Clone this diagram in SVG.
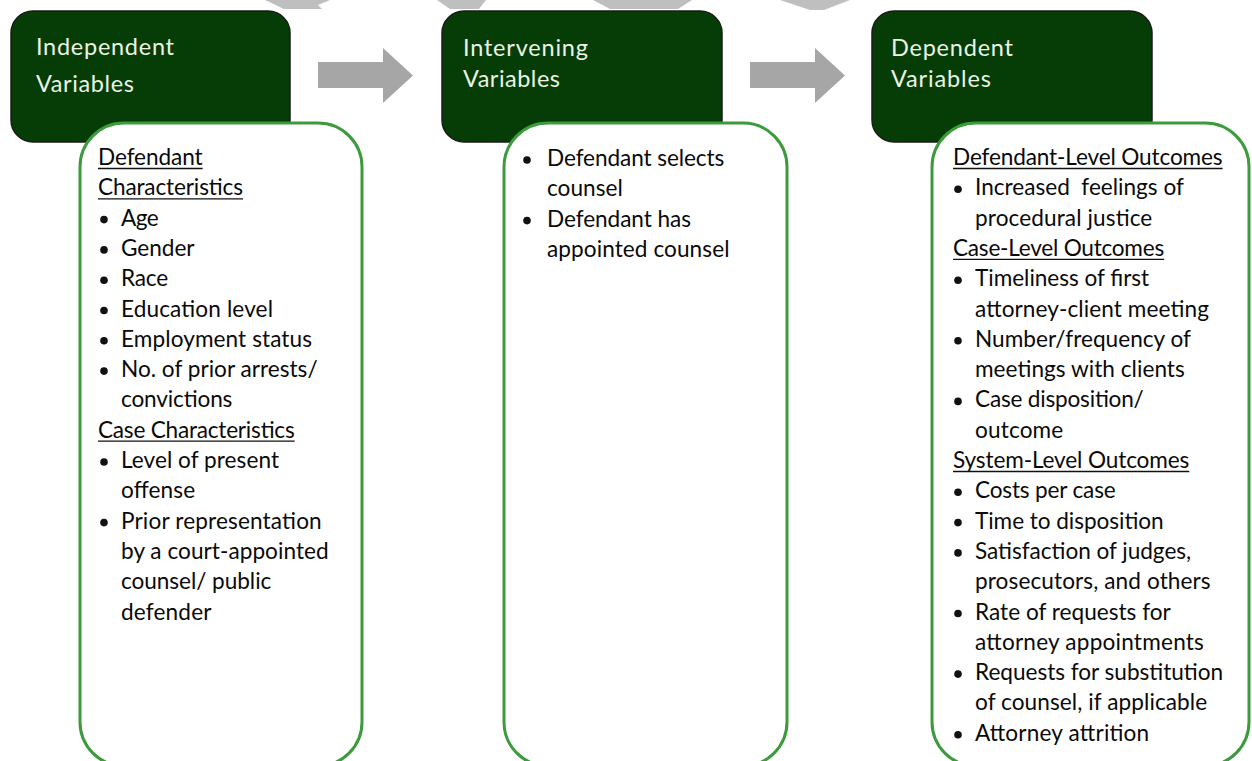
<svg xmlns="http://www.w3.org/2000/svg" width="1252" height="761" viewBox="0 0 1252 761">
<style>
.hdr{fill:#063d06;stroke:#1b1b1b;stroke-width:1.5}
.body{fill:#ffffff;stroke:#3d9a3d;stroke-width:3}
.ht{font-family:Lato,"Open Sans","Noto Sans",sans-serif;font-size:23.5px;fill:#eaf3e4}
.t{font-family:Lato,"Open Sans","Noto Sans",sans-serif;font-size:22.6px;fill:#0a0a0a}
.ul{stroke:#111111;stroke-width:1.3}
.bul{fill:#111111}
.arrow{fill:#a6a6a6}
.wm{fill:#bfbfbf}
</style>
<rect width="1252" height="761" fill="#ffffff"/>
<g id="top-shapes">
<polygon class="wm" points="265,0 330,0 318,5 322,9 284,9"/>
<polygon class="wm" points="437,0 486,0 479,9 450,9"/>
<polygon class="wm" points="593,0 692,0 678,9 610,9"/>
<polygon class="wm" points="780,0 850,0 824,10 810,10"/>
</g>
<g id="connectors">
<polygon class="arrow" points="318,62 383,62 383,48 413,75.5 383,103 383,88 318,88"/>
<polygon class="arrow" points="750,62 815,62 815,48 845,75.5 815,103 815,88 750,88"/>
</g>
<g id="header-independent">
<rect class="hdr" x="11" y="11" width="279" height="131" rx="22"/>
<text class="ht" x="36" y="55" textLength="138" lengthAdjust="spacing">Independent</text>
<text class="ht" x="36" y="92" textLength="98" lengthAdjust="spacing">Variables</text>
</g>
<g id="header-intervening">
<rect class="hdr" x="442" y="11" width="280" height="131" rx="22"/>
<text class="ht" x="463" y="56" textLength="125" lengthAdjust="spacing">Intervening</text>
<text class="ht" x="463" y="87" textLength="97" lengthAdjust="spacing">Variables</text>
</g>
<g id="header-dependent">
<rect class="hdr" x="872" y="11" width="280" height="131" rx="22"/>
<text class="ht" x="891" y="56" textLength="122" lengthAdjust="spacing">Dependent</text>
<text class="ht" x="891" y="87" textLength="100" lengthAdjust="spacing">Variables</text>
</g>
<g id="body-independent">
<rect class="body" x="80" y="123" width="282" height="643" rx="44"/>
<text class="t" x="98" y="165" textLength="104.6" lengthAdjust="spacing">Defendant</text>
<line class="ul" x1="98" y1="168.5" x2="202.6" y2="168.5"/>
<text class="t" x="98" y="195.3" textLength="145" lengthAdjust="spacing">Characteristics</text>
<line class="ul" x1="98" y1="198.8" x2="243" y2="198.8"/>
<circle class="bul" cx="104" cy="219.6" r="3.8"/>
<text class="t" x="121" y="225.6" textLength="37.6" lengthAdjust="spacing">Age</text>
<circle class="bul" cx="104" cy="249.9" r="3.8"/>
<text class="t" x="121" y="255.9" textLength="73.5" lengthAdjust="spacing">Gender</text>
<circle class="bul" cx="104" cy="280.2" r="3.8"/>
<text class="t" x="121" y="286.2" textLength="47.2" lengthAdjust="spacing">Race</text>
<circle class="bul" cx="104" cy="310.5" r="3.8"/>
<text class="t" x="121" y="316.5" textLength="152" lengthAdjust="spacing">Education level</text>
<circle class="bul" cx="104" cy="340.8" r="3.8"/>
<text class="t" x="121" y="346.8" textLength="191" lengthAdjust="spacing">Employment status</text>
<circle class="bul" cx="104" cy="371.1" r="3.8"/>
<text class="t" x="121" y="377.1" textLength="196.6" lengthAdjust="spacing">No. of prior arrests/</text>
<text class="t" x="121" y="407.4" textLength="111.4" lengthAdjust="spacing">convictions</text>
<text class="t" x="98" y="437.7" textLength="196.7" lengthAdjust="spacing">Case Characteristics</text>
<line class="ul" x1="98" y1="441.2" x2="294.7" y2="441.2"/>
<circle class="bul" cx="104" cy="462" r="3.8"/>
<text class="t" x="121" y="468" textLength="158" lengthAdjust="spacing">Level of present</text>
<text class="t" x="121" y="498.3" textLength="74.1" lengthAdjust="spacing">offense</text>
<circle class="bul" cx="104" cy="522.6" r="3.8"/>
<text class="t" x="121" y="528.6" textLength="200.7" lengthAdjust="spacing">Prior representation</text>
<text class="t" x="121" y="558.9" textLength="207.6" lengthAdjust="spacing">by a court-appointed</text>
<text class="t" x="121" y="589.2" textLength="150.3" lengthAdjust="spacing">counsel/ public</text>
<text class="t" x="121" y="619.5" textLength="90.5" lengthAdjust="spacing">defender</text>
</g>
<g id="body-intervening">
<rect class="body" x="504" y="123" width="283" height="643" rx="44"/>
<circle class="bul" cx="527" cy="160" r="3.8"/>
<text class="t" x="547" y="166" textLength="177.3" lengthAdjust="spacing">Defendant selects</text>
<text class="t" x="547" y="196.3" textLength="75.8" lengthAdjust="spacing">counsel</text>
<circle class="bul" cx="527" cy="220.6" r="3.8"/>
<text class="t" x="547" y="226.6" textLength="144" lengthAdjust="spacing">Defendant has</text>
<text class="t" x="547" y="256.9" textLength="182.5" lengthAdjust="spacing">appointed counsel</text>
</g>
<g id="body-dependent">
<rect class="body" x="932" y="123" width="317" height="643" rx="44"/>
<text class="t" x="953" y="165" textLength="269.6" lengthAdjust="spacing">Defendant-Level Outcomes</text>
<line class="ul" x1="953" y1="168.5" x2="1222.6" y2="168.5"/>
<circle class="bul" cx="958" cy="189.3" r="3.8"/>
<text class="t" x="975" y="195.3" textLength="208.9" lengthAdjust="spacing">Increased&#160; feelings of</text>
<text class="t" x="975" y="225.6" textLength="177.3" lengthAdjust="spacing">procedural justice</text>
<text class="t" x="953" y="255.9" textLength="211.2" lengthAdjust="spacing">Case-Level Outcomes</text>
<line class="ul" x1="953" y1="259.4" x2="1164.2" y2="259.4"/>
<circle class="bul" cx="958" cy="280.2" r="3.8"/>
<text class="t" x="975" y="286.2" textLength="174.2" lengthAdjust="spacing">Timeliness of first</text>
<text class="t" x="975" y="316.5" textLength="233.9" lengthAdjust="spacing">attorney-client meeting</text>
<circle class="bul" cx="958" cy="340.8" r="3.8"/>
<text class="t" x="975" y="346.8" textLength="216" lengthAdjust="spacing">Number/frequency of</text>
<text class="t" x="975" y="377.1" textLength="209.8" lengthAdjust="spacing">meetings with clients</text>
<circle class="bul" cx="958" cy="401.4" r="3.8"/>
<text class="t" x="975" y="407.4" textLength="168.8" lengthAdjust="spacing">Case disposition/</text>
<text class="t" x="975" y="437.7" textLength="88.3" lengthAdjust="spacing">outcome</text>
<text class="t" x="953" y="468" textLength="236.3" lengthAdjust="spacing">System-Level Outcomes</text>
<line class="ul" x1="953" y1="471.5" x2="1189.3" y2="471.5"/>
<circle class="bul" cx="958" cy="492.3" r="3.8"/>
<text class="t" x="975" y="498.3" textLength="140.7" lengthAdjust="spacing">Costs per case</text>
<circle class="bul" cx="958" cy="522.6" r="3.8"/>
<text class="t" x="975" y="528.6" textLength="188.6" lengthAdjust="spacing">Time to disposition</text>
<circle class="bul" cx="958" cy="552.9" r="3.8"/>
<text class="t" x="975" y="558.9" textLength="216.2" lengthAdjust="spacing">Satisfaction of judges,</text>
<text class="t" x="975" y="589.2" textLength="235.6" lengthAdjust="spacing">prosecutors, and others</text>
<circle class="bul" cx="958" cy="613.5" r="3.8"/>
<text class="t" x="975" y="619.5" textLength="195.8" lengthAdjust="spacing">Rate of requests for</text>
<text class="t" x="975" y="649.8" textLength="228.9" lengthAdjust="spacing">attorney appointments</text>
<circle class="bul" cx="958" cy="674.1" r="3.8"/>
<text class="t" x="975" y="680.1" textLength="248.1" lengthAdjust="spacing">Requests for substitution</text>
<text class="t" x="975" y="710.4" textLength="232.1" lengthAdjust="spacing">of counsel, if applicable</text>
<circle class="bul" cx="958" cy="734.7" r="3.8"/>
<text class="t" x="975" y="740.7" textLength="174.2" lengthAdjust="spacing">Attorney attrition</text>
</g>
</svg>
